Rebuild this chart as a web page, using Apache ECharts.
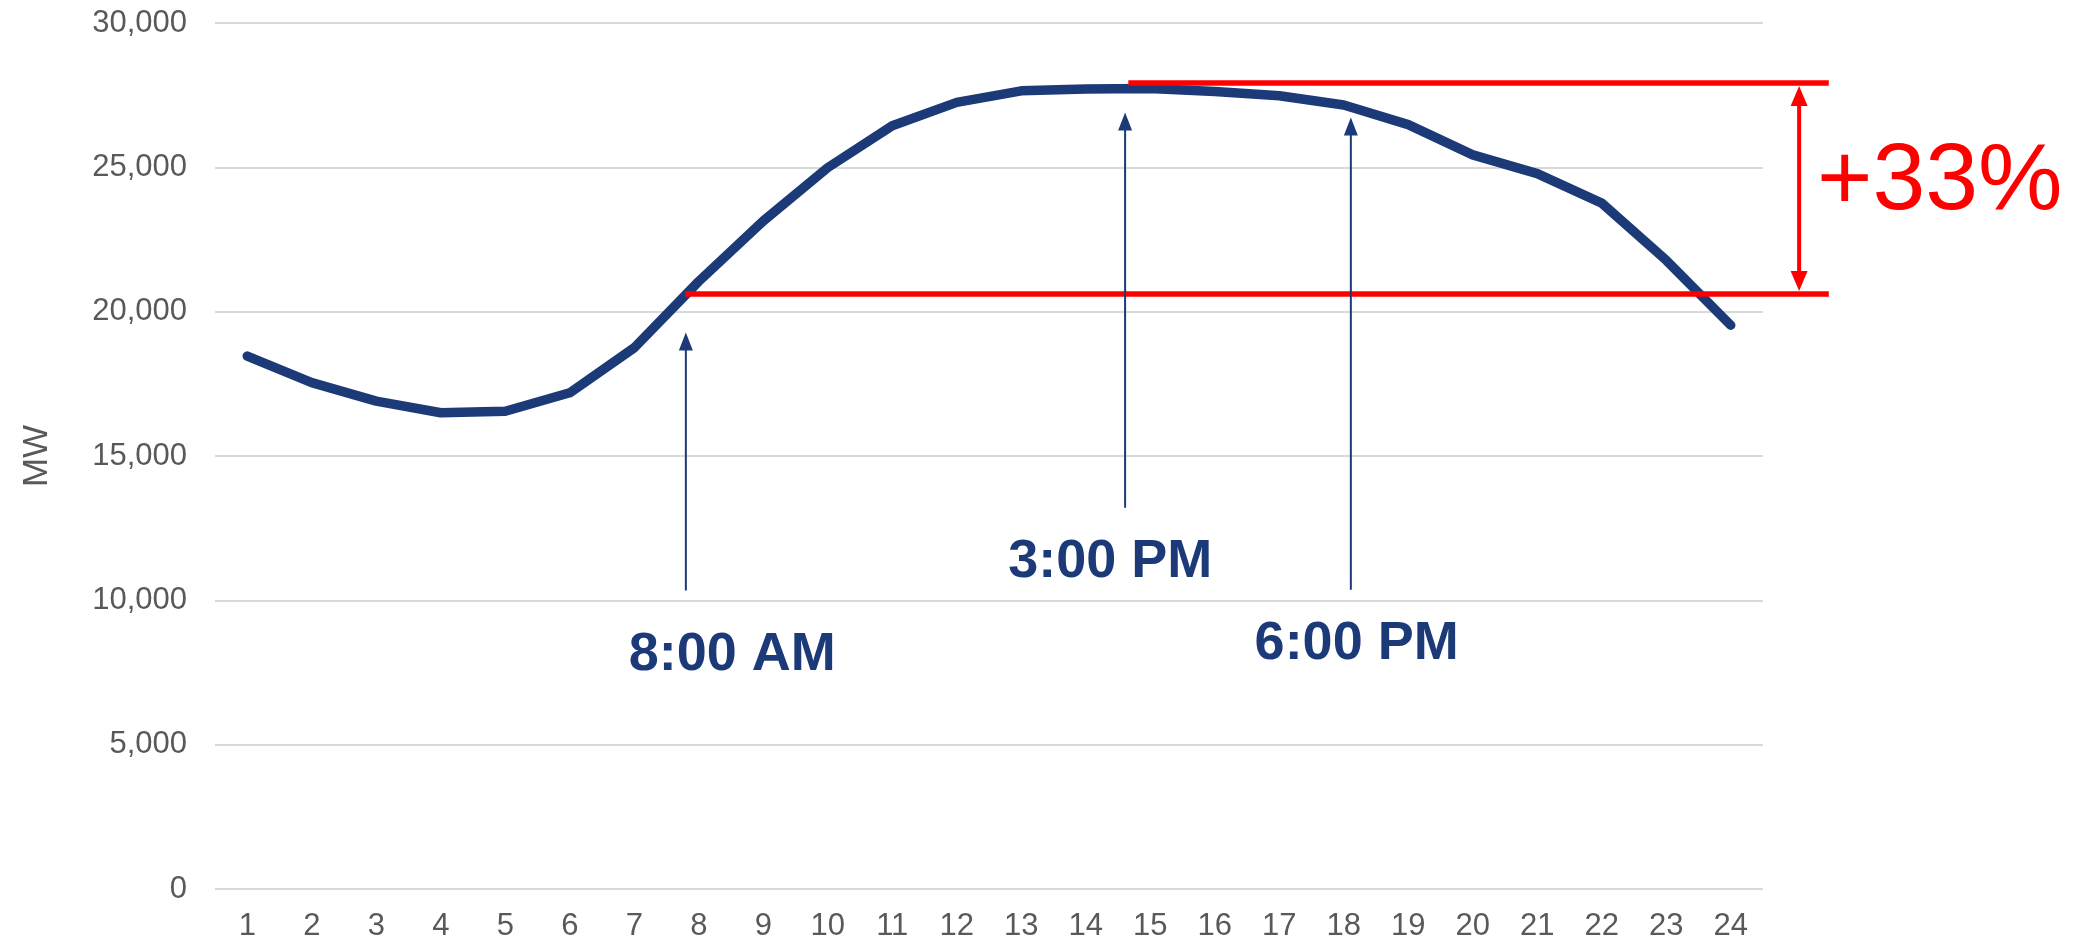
<!DOCTYPE html>
<html>
<head>
<meta charset="utf-8">
<script src="https://cdn.jsdelivr.net/npm/echarts@6/dist/echarts.min.js"></script>
<style>
html,body{margin:0;padding:0;background:#ffffff;}
#chart{width:2090px;height:945px;}
</style>
</head>
<body>
<div id="chart"></div>
<script>
// ---- data ----
const hours = ['1','2','3','4','5','6','7','8','9','10','11','12','13','14','15','16','17','18','19','20','21','22','23','24'];
const loadMW = [18460, 17540, 16900, 16500, 16550, 17190, 18750, 21050, 23140, 24990, 26440, 27250,
                27650, 27710, 27730, 27630, 27480, 27160, 26480, 25430, 24780, 23760, 21780, 19530];
const yAxisName = 'MW';

// annotation anchors (x in hour units, y in MW)
const timeLabels     = ['8:00 AM', '3:00 PM', '6:00 PM'];
const timeArrowHour  = [7.80, 14.61, 18.11];
const timeArrowTip   = [19280, 26900, 26730];
const timeArrowBase  = [10340, 13210, 10370];
const timeLabelHour  = [8.52, 14.38, 18.20];
const timeLabelValue = [8100, 11330, 8480];

const baseLevel = 20611;
const peakLevel = 27918;
const baseLineFromHour = 7.79;
const peakLineFromHour = 14.66;
const levelLineToHour = 25.52;
const spanArrowHour = 25.06;
const spanLabel = '+33%';
const spanLabelHour = 27.24;
const spanLabelValue = 24450;

// ---- styles ----
const FONT = '"Liberation Sans", Arial, Helvetica, sans-serif';
const NAVY = '#1c3a78';
const RED = '#ff0000';
const GREY = '#595959';

const chart = echarts.init(document.getElementById('chart'), null, {renderer: 'canvas'});

const option = {
  animation: false,
  backgroundColor: '#ffffff',
  grid: {left: 215, right: 327, top: 23, bottom: 56, containLabel: false},
  xAxis: [{
    type: 'category',
    data: hours,
    boundaryGap: true,
    axisLine: {show: false},
    axisTick: {show: false},
    axisLabel: {color: GREY, fontSize: 31, fontFamily: FONT, margin: 22},
    splitLine: {show: false}
  }, {
    type: 'value',
    min: 0.5,
    max: 24.5,
    show: false,
    splitLine: {show: false}
  }],
  yAxis: {
    type: 'value',
    min: 0,
    max: 30000,
    interval: 5000,
    name: yAxisName,
    nameLocation: 'middle',
    nameRotate: 90,
    nameGap: 160,
    nameTextStyle: {color: GREY, fontSize: 35, fontFamily: FONT},
    axisLine: {show: false},
    axisTick: {show: false},
    axisLabel: {
      color: GREY, fontSize: 31, fontFamily: FONT, margin: 28,
      formatter: v => v.toLocaleString('en-US')
    },
    splitLine: {show: true, lineStyle: {color: '#d9d9d9', width: 2}}
  },
  series: [{
    type: 'line',
    data: loadMW,
    xAxisIndex: 0,
    symbol: 'none',
    smooth: false,
    lineStyle: {color: NAVY, width: 9.5, cap: 'round', join: 'round'}
  }]
};
chart.setOption(option);

// ---- annotations via the library's own scales ----
function px(hour) { return chart.convertToPixel({xAxisIndex: 1}, hour); }
function py(v) { return chart.convertToPixel({yAxisIndex: 0}, v); }

const g = [];
function hLine(x1, x2, y, color, w) {
  g.push({type: 'line', z: 10, shape: {x1: x1, y1: y, x2: x2, y2: y}, style: {stroke: color, lineWidth: w}});
}
function vLine(x, y1, y2, color, w) {
  g.push({type: 'line', z: 10, shape: {x1: x, y1: y1, x2: x, y2: y2}, style: {stroke: color, lineWidth: w}});
}
function head(x, y, dir, color, w, h) {
  // dir = -1 pointing up, +1 pointing down; (x,y) is the tip
  g.push({type: 'polygon', z: 11, shape: {points: [[x, y], [x - w / 2, y - dir * h], [x + w / 2, y - dir * h]]},
          style: {fill: color}});
}
function label(text, x, y, color, font) {
  g.push({type: 'text', z: 12, x: x, y: y,
          style: {text: text, fill: color, font: font, align: 'center', verticalAlign: 'middle'}});
}

// red level lines
hLine(px(baseLineFromHour), px(levelLineToHour), py(baseLevel), RED, 5.5);
hLine(px(peakLineFromHour), px(levelLineToHour), py(peakLevel), RED, 5.5);
// red double arrow
{
  const x = px(spanArrowHour), yTop = py(peakLevel) + 3, yBot = py(baseLevel) - 3;
  vLine(x, yTop + 14, yBot - 14, RED, 4);
  head(x, yTop, -1, RED, 17, 20);
  head(x, yBot, 1, RED, 17, 20);
}
label(spanLabel, px(spanLabelHour), py(spanLabelValue), RED, 'normal 95px ' + FONT);

// time arrows and labels
for (let i = 0; i < timeLabels.length; i++) {
  const x = px(timeArrowHour[i]);
  const tip = py(timeArrowTip[i]);
  vLine(x, tip + 14, py(timeArrowBase[i]), NAVY, 2);
  head(x, tip, -1, NAVY, 14, 18);
  label(timeLabels[i], px(timeLabelHour[i]), py(timeLabelValue[i]), NAVY, 'bold 54px ' + FONT);
}

chart.setOption({graphic: g});
</script>
</body>
</html>
